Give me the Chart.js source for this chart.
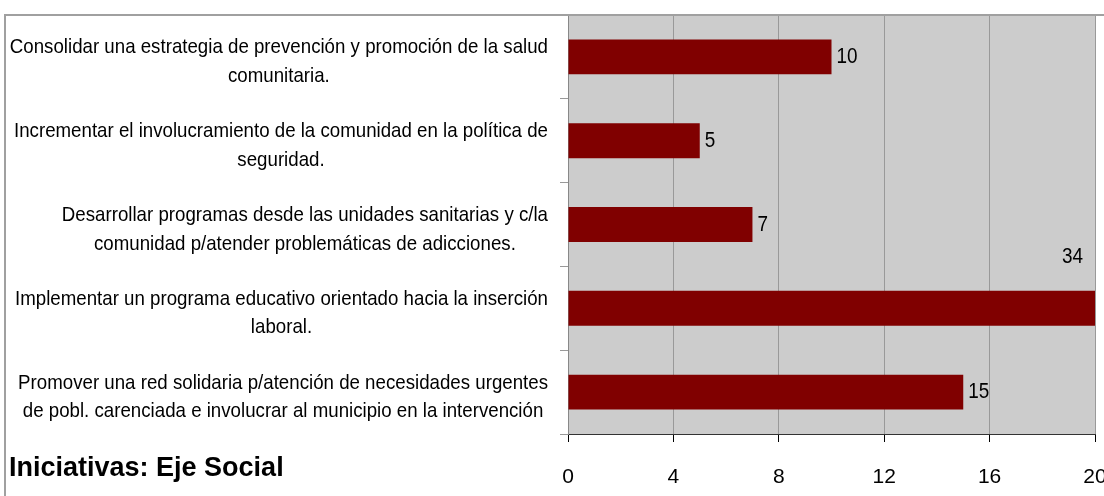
<!DOCTYPE html>
<html>
<head>
<meta charset="utf-8">
<script src="https://cdn.jsdelivr.net/npm/chart.js@4"></script>
<style>
  html, body { margin: 0; padding: 0; background: #ffffff; }
  #wrap { width: 1104px; height: 496px; position: relative; }
</style>
</head>
<body>
<div id="wrap"><canvas id="c" width="1104" height="496"></canvas></div>
<script>
const categories = [
  ["Consolidar una estrategia de prevención y promoción de la salud", "comunitaria."],
  ["Incrementar el involucramiento de la comunidad en la política de", "seguridad."],
  ["Desarrollar programas desde las unidades sanitarias y c/la", "comunidad p/atender problemáticas de adicciones."],
  ["Implementar un programa educativo orientado hacia la inserción", "laboral."],
  ["Promover una red solidaria p/atención de necesidades urgentes", "de pobl. carenciada e involucrar al municipio en la intervención"]
];
const values = [10, 5, 7, 34, 15];
const xTicks = [0, 4, 8, 12, 16, 20];
const titleText = "Iniciativas: Eje Social";

const FONT = "'Liberation Sans', Arial, sans-serif";
const NARROW = 0.89;

function narrowText(ctx, text, x, y, align, sx) {
  ctx.save();
  ctx.translate(x, y);
  ctx.scale(sx, 1);
  ctx.textAlign = align;
  ctx.fillText(text, 0, 0);
  ctx.restore();
}

const decorPlugin = {
  id: 'decor',
  beforeDraw(chart) {
    const ctx = chart.ctx;
    ctx.save();
    ctx.fillStyle = '#ffffff';
    ctx.fillRect(0, 0, chart.width, chart.height);
    const a = chart.chartArea;
    ctx.fillStyle = '#cccccc';
    ctx.fillRect(a.left, a.top, a.right - a.left, a.bottom - a.top);
    ctx.restore();
  },
  afterDraw(chart) {
    const ctx = chart.ctx;
    const a = chart.chartArea;
    const ys = chart.scales.y;
    const xs = chart.scales.x;
    ctx.save();
    // outer frame
    ctx.strokeStyle = '#a0a0a0';
    ctx.lineWidth = 2;
    ctx.beginPath();
    ctx.moveTo(5, chart.height + 5);
    ctx.lineTo(5, 15);
    ctx.lineTo(chart.width + 5, 15);
    ctx.stroke();
    // category labels
    ctx.font = '21px ' + FONT;
    ctx.fillStyle = '#000000';
    ctx.textBaseline = 'middle';
    const rightEdge = a.left - 20;
    const lineH = 28.5;
    categories.forEach((lines, i) => {
      const cy = ys.getPixelForValue(i) + 5;
      let w = 0;
      lines.forEach(l => { w = Math.max(w, ctx.measureText(l).width * NARROW); });
      const cx = rightEdge - w / 2;
      const n = lines.length;
      lines.forEach((l, j) => {
        narrowText(ctx, l, cx, cy + (j - (n - 1) / 2) * lineH, 'center', NARROW);
      });
    });
    // value labels
    ctx.font = '22px ' + FONT;
    const meta = chart.getDatasetMeta(0);
    const max = xs.max;
    meta.data.forEach((bar, i) => {
      const v = values[i];
      if (v > max) {
        narrowText(ctx, String(v), a.right - 12, bar.y - 51, 'right', 0.86);
      } else {
        narrowText(ctx, String(v), bar.x + 5, bar.y, 'left', 0.86);
      }
    });
    // title
    ctx.font = 'bold 27px ' + FONT;
    ctx.textAlign = 'left';
    ctx.fillText(titleText, 9, 469);
    ctx.restore();
  }
};

new Chart(document.getElementById('c'), {
  type: 'bar',
  data: {
    labels: categories,
    datasets: [{
      data: values,
      backgroundColor: '#800000',
      borderWidth: 0,
      barPercentage: 0.417,
      categoryPercentage: 1.0
    }]
  },
  options: {
    indexAxis: 'y',
    responsive: false,
    animation: false,
    devicePixelRatio: 1,
    layout: { padding: { left: 560, right: 9, top: 15, bottom: 0 } },
    plugins: {
      legend: { display: false },
      tooltip: { enabled: false },
      title: { display: false }
    },
    scales: {
      x: {
        type: 'linear',
        min: xTicks[0],
        max: xTicks[xTicks.length - 1],
        afterBuildTicks(scale) { scale.ticks = xTicks.map(v => ({ value: v })); },
        afterFit(scale) { scale.height = 62; scale.paddingRight = 0; scale.paddingLeft = 0; },
        ticks: {
          color: '#000000',
          font: { family: FONT, size: 21 },
          padding: 23,
          maxRotation: 0
        },
        grid: {
          color: '#999999',
          lineWidth: 1,
          tickLength: 8,
          tickColor: '#000000',
          drawOnChartArea: true
        },
        border: { color: '#333333', width: 1 }
      },
      y: {
        type: 'category',
        afterFit(scale) { scale.width = 8; scale.paddingTop = 0; scale.paddingBottom = 0; },
        ticks: { display: false },
        grid: {
          offset: true,
          drawOnChartArea: false,
          tickLength: 8,
          tickColor: '#999999',
          color: '#999999'
        },
        border: { color: '#888888', width: 1 }
      }
    }
  },
  plugins: [decorPlugin]
});
</script>
</body>
</html>
